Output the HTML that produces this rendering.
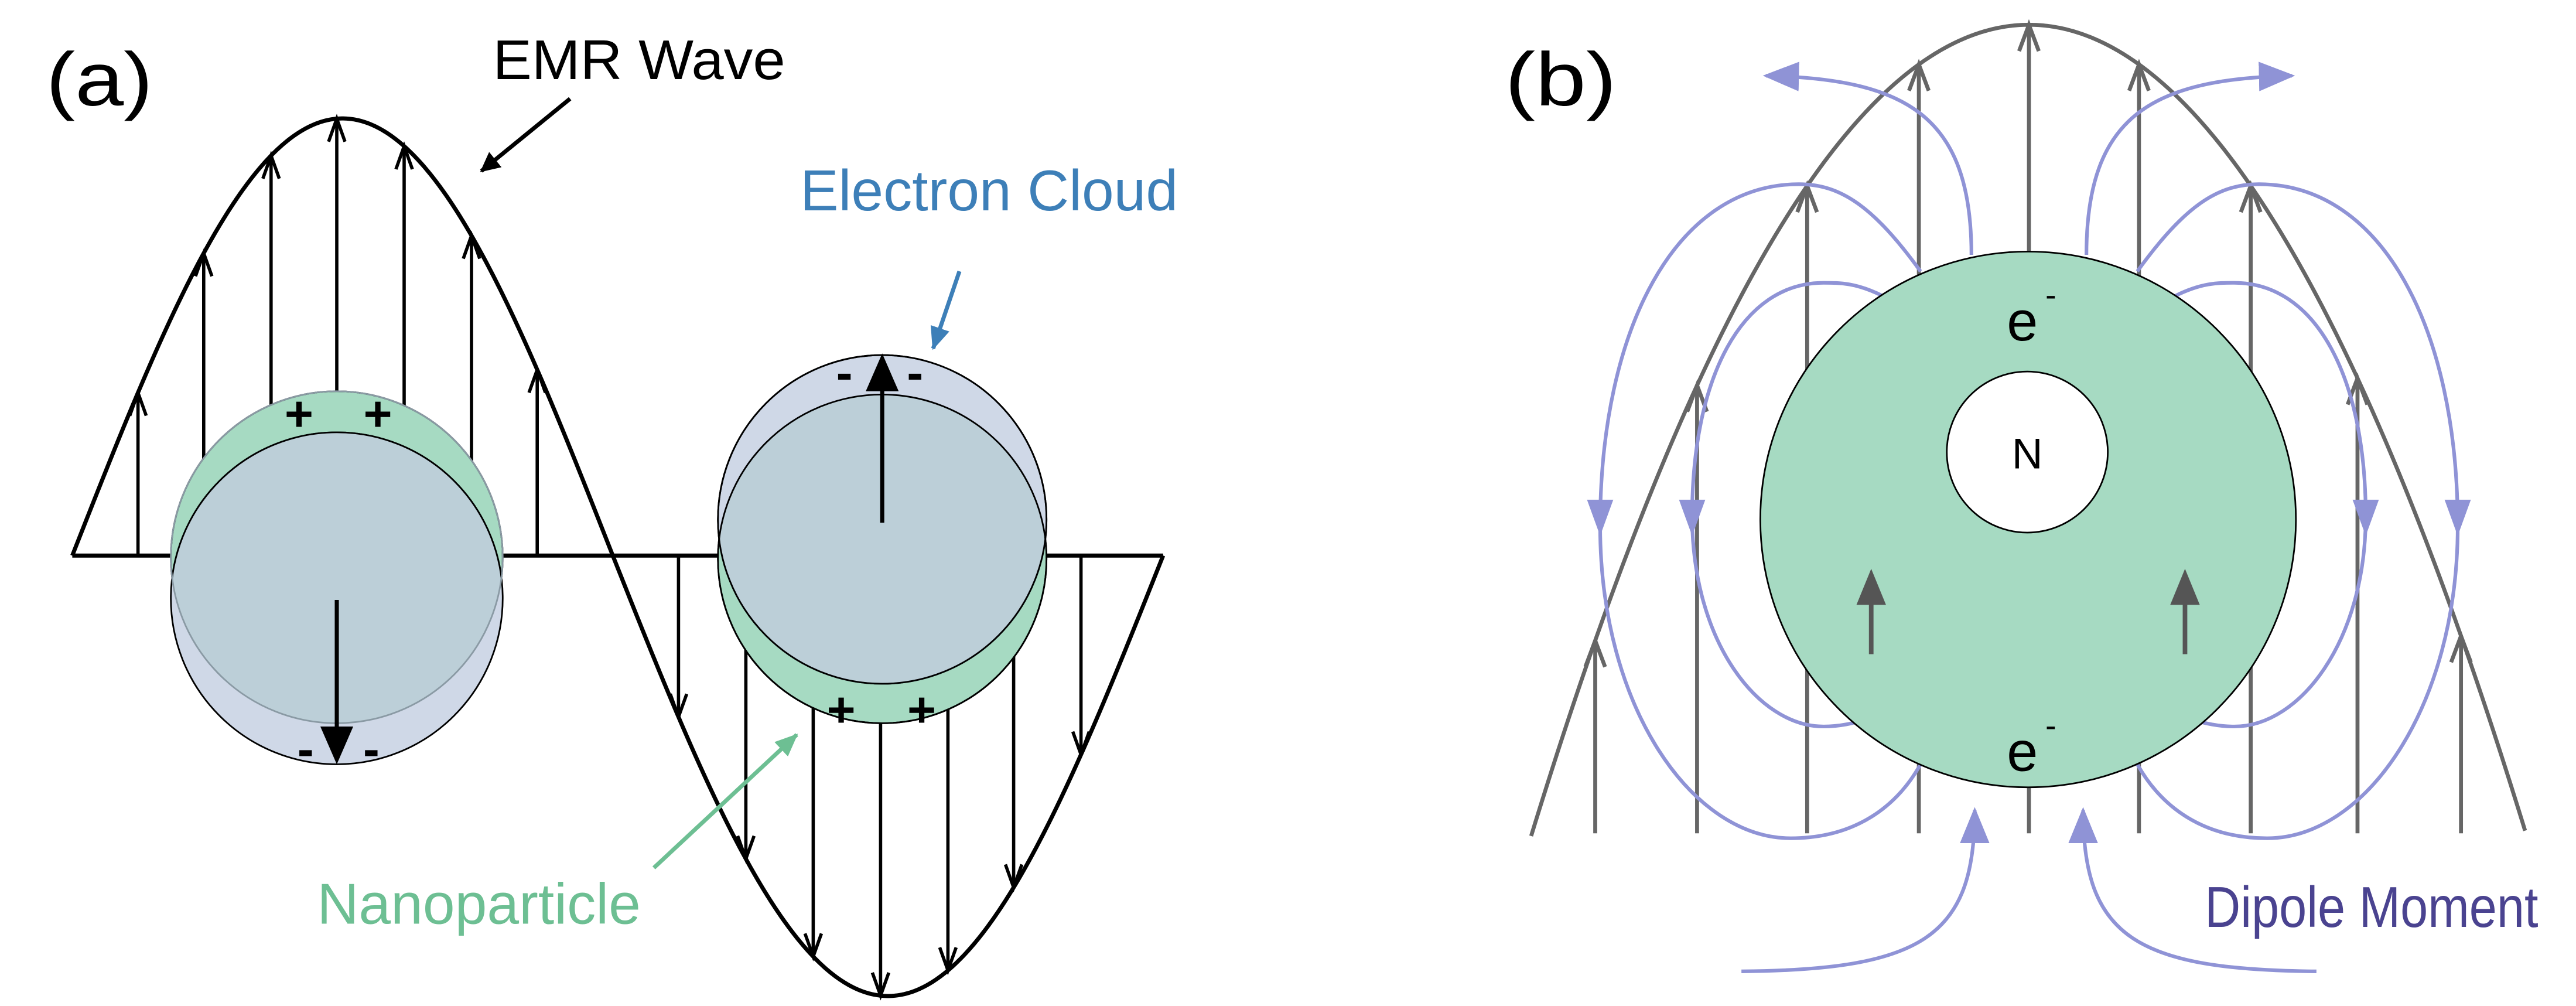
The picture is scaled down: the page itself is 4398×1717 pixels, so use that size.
<!DOCTYPE html>
<html><head><meta charset="utf-8"><style>
html,body{margin:0;padding:0;background:#fff;}
svg{display:block;}
text{font-family:"Liberation Sans",sans-serif;}
</style></head><body>
<svg id="s" width="4398" height="1717" viewBox="0 0 1568 612" xmlns="http://www.w3.org/2000/svg">
<defs>
<marker id="bk" markerWidth="12" markerHeight="12" refX="11" refY="6" orient="auto" markerUnits="userSpaceOnUse"><path d="M0,0 L12,6 L0,12 z" fill="#000"/></marker>
<marker id="bl" markerWidth="14" markerHeight="12" refX="13" refY="6" orient="auto" markerUnits="userSpaceOnUse"><path d="M0,0 L14,6 L0,12 z" fill="#3d7fb8"/></marker>
<marker id="gr" markerWidth="14" markerHeight="12" refX="13" refY="6" orient="auto" markerUnits="userSpaceOnUse"><path d="M0,0 L14,6 L0,12 z" fill="#6dbf93"/></marker>
<marker id="pu" markerWidth="22" markerHeight="18" refX="20" refY="9" orient="auto" markerUnits="userSpaceOnUse"><path d="M0,0 L22,9 L0,18 z" fill="#8f93d6"/></marker>
<clipPath id="cg1"><circle cx="205" cy="339" r="101"/></clipPath>
<clipPath id="cg2"><circle cx="537" cy="340" r="100"/></clipPath>
</defs>
<g id="wa" fill="none" stroke="#000" stroke-width="2.5"></g>
<g id="wb" fill="none" stroke="#666" stroke-width="2.4"></g>

<!-- panel (a) labels -->
<text x="28" y="64" font-size="46" textLength="65" lengthAdjust="spacingAndGlyphs">(a)</text>
<text x="300" y="48" font-size="34" textLength="178" lengthAdjust="spacingAndGlyphs">EMR Wave</text>
<line x1="347" y1="60" x2="293" y2="104" stroke="#000" stroke-width="2.5" marker-end="url(#bk)"/>
<text x="487" y="128" font-size="35" fill="#3d7fb8" textLength="230" lengthAdjust="spacingAndGlyphs">Electron Cloud</text>
<line x1="584" y1="165" x2="568" y2="212" stroke="#3d7fb8" stroke-width="2.5" marker-end="url(#bl)"/>
<text x="193" y="562" font-size="35" fill="#6dbf93" textLength="197" lengthAdjust="spacingAndGlyphs">Nanoparticle</text>
<line x1="398" y1="528" x2="485" y2="447" stroke="#6dbf93" stroke-width="2.5" marker-end="url(#gr)"/>

<!-- left particle -->
<circle cx="205" cy="339" r="101" fill="#a6dac2" stroke="#000" stroke-width="1"/>
<circle cx="205" cy="364" r="101" fill="#cfd8e7" stroke="#000" stroke-width="1"/>
<circle cx="205" cy="364" r="101" fill="#bccfd8" clip-path="url(#cg1)"/>
<circle cx="205" cy="364" r="101" fill="none" stroke="#000" stroke-width="1" clip-path="url(#cg1)"/>
<circle cx="205" cy="339" r="101" fill="none" stroke="#8a9aa4" stroke-width="1"/>
<text x="182" y="262" font-size="30" font-weight="bold" text-anchor="middle">+</text>
<text x="230" y="262" font-size="30" font-weight="bold" text-anchor="middle">+</text>
<text x="186" y="466" font-size="30" font-weight="bold" text-anchor="middle">-</text>
<text x="226" y="466" font-size="30" font-weight="bold" text-anchor="middle">-</text>
<line x1="205" y1="365" x2="205" y2="448" stroke="#000" stroke-width="2.5"/>
<path d="M195,442 L215,442 L205,465 z" fill="#000"/>

<!-- right particle -->
<circle cx="537" cy="340" r="100" fill="#a6dac2" stroke="#000" stroke-width="1"/>
<circle cx="537" cy="316" r="100" fill="#cfd8e7" stroke="#000" stroke-width="1"/>
<circle cx="537" cy="316" r="100" fill="#bccfd8" clip-path="url(#cg2)"/>
<circle cx="537" cy="340" r="100" fill="none" stroke="#000" stroke-width="1"/>
<circle cx="537" cy="316" r="100" fill="none" stroke="#8a9aa4" stroke-width="1" clip-path="url(#cg2)"/>
<circle cx="537" cy="316" r="100" fill="none" stroke="#000" stroke-width="1"/>
<text x="514" y="237" font-size="30" font-weight="bold" text-anchor="middle">-</text>
<text x="557" y="237" font-size="30" font-weight="bold" text-anchor="middle">-</text>
<text x="512" y="442" font-size="30" font-weight="bold" text-anchor="middle">+</text>
<text x="561" y="442" font-size="30" font-weight="bold" text-anchor="middle">+</text>
<line x1="537" y1="318" x2="537" y2="232" stroke="#000" stroke-width="2.5"/>
<path d="M527,238 L547,238 L537,215 z" fill="#000"/>

<!-- panel (b) -->
<text x="916" y="64" font-size="46" textLength="68" lengthAdjust="spacingAndGlyphs">(b)</text>
<g fill="none" stroke="#8f93d6" stroke-width="2.2">
<path d="M1200,155 C1200,70 1160,48 1075,46" marker-end="url(#pu)"/>
<path d="M1270,155 C1270,70 1310,48 1395,46" marker-end="url(#pu)"/>
<path d="M1060,591 C1170,590 1202,570 1202,493" marker-end="url(#pu)"/>
<path d="M1410,591 C1300,590 1268,570 1268,493" marker-end="url(#pu)"/>
<path d="M1169,165 C1140,125 1120,112 1095,112 C1020,112 974,200 974,320 C974,430 1030,510 1090,510 C1130,510 1155,490 1169,465"/>
<path d="M1301,165 C1330,125 1350,112 1375,112 C1450,112 1496,200 1496,320 C1496,430 1440,510 1380,510 C1340,510 1315,490 1301,465"/>
<path d="M1146,180 C1130,172 1120,172 1110,172 C1060,172 1030,230 1030,314 C1030,390 1070,442 1110,442 C1120,442 1128,440 1135,438"/>
<path d="M1324,180 C1340,172 1350,172 1360,172 C1410,172 1440,230 1440,314 C1440,390 1400,442 1360,442 C1350,442 1342,440 1335,438"/>
</g>
<g fill="#8f93d6">
<path d="M966,304 L982,304 L974,326 z"/>
<path d="M1022,304 L1038,304 L1030,326 z"/>
<path d="M1432,304 L1448,304 L1440,326 z"/>
<path d="M1488,304 L1504,304 L1496,326 z"/>
</g>
<circle cx="1234.5" cy="316" r="163" fill="#a6dac2" stroke="#000" stroke-width="1"/>
<circle cx="1234" cy="275" r="49" fill="#fff" stroke="#000" stroke-width="1"/>
<text x="1234" y="285" font-size="26" text-anchor="middle">N</text>
<text x="1231" y="207" font-size="34" text-anchor="middle">e</text>
<text x="1245" y="186" font-size="20">-</text>
<text x="1231" y="469" font-size="34" text-anchor="middle">e</text>
<text x="1245" y="448" font-size="20">-</text>
<g stroke="#555" stroke-width="2.8"><line x1="1139" y1="398" x2="1139" y2="362"/><line x1="1330" y1="398" x2="1330" y2="362"/></g>
<g fill="#555"><path d="M1130,368 L1148,368 L1139,346 z"/><path d="M1321,368 L1339,368 L1330,346 z"/></g>
<text x="1342" y="564" font-size="35" fill="#4a4390" textLength="203" lengthAdjust="spacingAndGlyphs">Dipole Moment</text>
</svg>
<script>
var NS="http://www.w3.org/2000/svg";
function el(g,t,a){var e=document.createElementNS(NS,t);for(var k in a)e.setAttribute(k,a[k]);g.appendChild(e);return e;}
var wa=document.getElementById('wa'), wb=document.getElementById('wb');
function ya(x){ if(x<=373) return 338-266*Math.sin(Math.PI*(x-44)/329); return 338+268*Math.sin(Math.PI*(x-373)/335);}
var d="M44,338";for(var x=44;x<=708;x+=1){d+=" L"+x+","+ya(x).toFixed(2);}
el(wa,'path',{d:d});
el(wa,'line',{x1:44,y1:338,x2:708,y2:338});
[84,124,165,205,246,287,327].forEach(function(x){var y=ya(x);el(wa,'line',{x1:x,y1:338,x2:x,y2:y,'stroke-width':2});
 el(wa,'path',{d:"M"+(x-5)+","+(y+14)+" L"+x+","+y+" L"+(x+5)+","+(y+14),'stroke-width':2});});
[413,454,495,536,577,617,658].forEach(function(x){var y=ya(x);el(wa,'line',{x1:x,y1:338,x2:x,y2:y,'stroke-width':2});
 el(wa,'path',{d:"M"+(x-5)+","+(y-14)+" L"+x+","+y+" L"+(x+5)+","+(y-14),'stroke-width':2});});
function yb(x){var t=(x-1235)/302.5;return 15+492*t*t;}
d="M932,"+yb(932).toFixed(2);for(var x=932;x<=1537;x+=1){d+=" L"+x+","+yb(x).toFixed(2);}
el(wb,'path',{d:d});
[971,1033,1100,1168,1235,1302,1370,1435,1498].forEach(function(x){var y=yb(x);el(wb,'line',{x1:x,y1:507,x2:x,y2:y});
 el(wb,'path',{d:"M"+(x-6)+","+(y+16)+" L"+x+","+y+" L"+(x+6)+","+(y+16)});});
</script>
</body></html>
